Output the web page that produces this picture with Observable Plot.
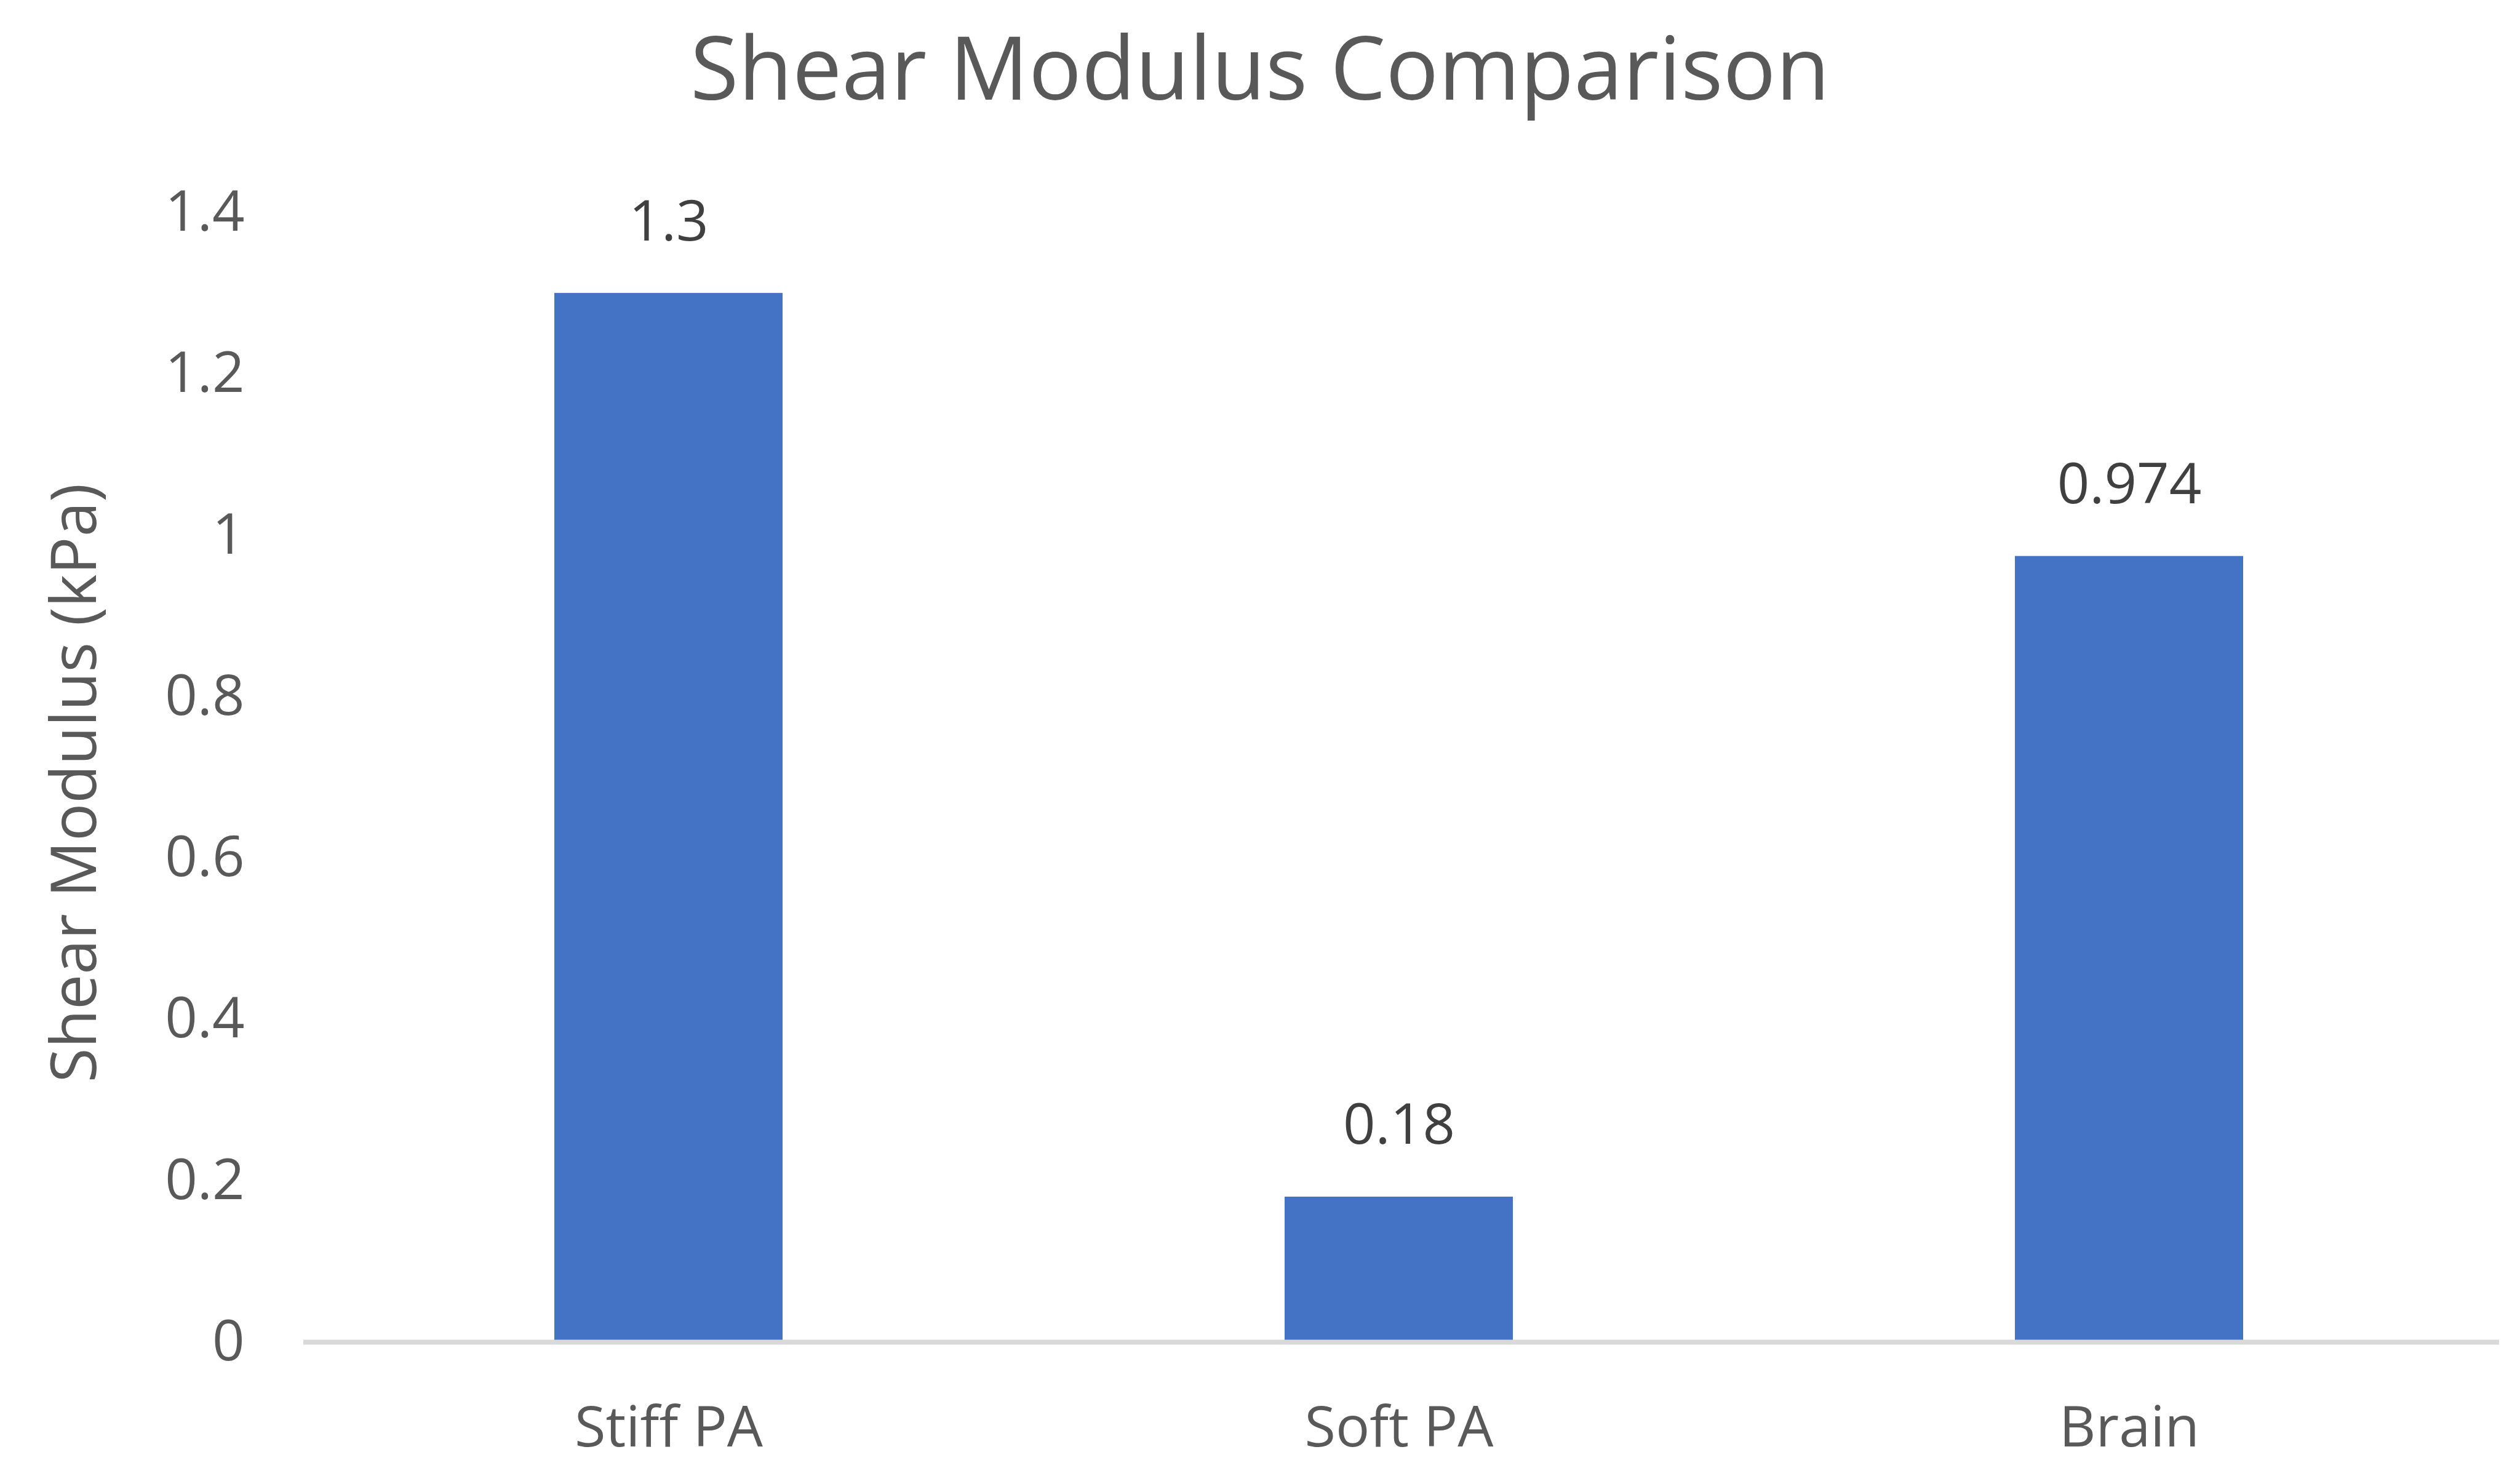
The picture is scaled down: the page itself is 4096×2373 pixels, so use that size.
<!DOCTYPE html>
<html><head><meta charset="utf-8">
<script src="https://cdn.jsdelivr.net/npm/d3@7"></script>
<script src="https://cdn.jsdelivr.net/npm/@observablehq/plot@0.6"></script>
<style>
html,body{margin:0;padding:0;background:#fff;}
#wrap{position:relative;width:4096px;height:2373px;}
#title{position:absolute;left:0;top:35px;width:4096px;text-align:center;font-family:'Open Sans';font-size:143px;color:#595959;line-height:1;z-index:2;}
</style></head>
<body><div id="wrap"><div id="title"></div></div>
<script>
const title = "Shear Modulus Comparison";
const yTitle = "Shear Modulus (kPa)";
const categories = ["Stiff PA", "Soft PA", "Brain"];
const values = [1.3, 0.18, 0.974];
const valueLabels = ["1.3", "0.18", "0.974"];
const yTicks = [0, 0.2, 0.4, 0.6, 0.8, 1, 1.2, 1.4];
const yTickLabels = ["0", "0.2", "0.4", "0.6", "0.8", "1", "1.2", "1.4"];

document.getElementById("title").textContent = title;
const data = categories.map((c, i) => ({category: c, value: values[i], label: valueLabels[i]}));

const chart = Plot.plot({
  width: 4096, height: 2373,
  marginTop: 345, marginBottom: 192, marginLeft: 493, marginRight: 42,
  style: {fontFamily: "'Open Sans'", fontSize: "92px", color: "#595959", background: "white"},
  x: {domain: categories, paddingInner: 0.6875, paddingOuter: 0.34375, label: null},
  y: {domain: [0, 1.4], label: null},
  marks: [
    Plot.barY(data, {x: "category", y: "value", fill: "#4472C4"}),
    Plot.ruleY([0], {stroke: "#D9D9D9", strokeWidth: 8, insetRight: -8}),
    Plot.axisY(yTicks, {tickSize: 0, tickPadding: 96, tickFormat: d => yTickLabels[yTicks.indexOf(d)], fontSize: 92, label: null}),
    Plot.axisX({tickSize: 0, tickPadding: 104, fontSize: 92, label: null}),
    Plot.text(data, {x: "category", y: "value", text: "label", lineAnchor: "bottom", dy: -86, fontSize: 92, fill: "#404040"}),
    Plot.text([yTitle], {frameAnchor: "left", textAnchor: "middle", lineAnchor: "middle", rotate: -90, dx: -370, dy: 9, fontSize: 102, fill: "#595959"})
  ]
});
chart.style.position = "absolute";
chart.style.left = "0";
chart.style.top = "0";
document.getElementById("wrap").appendChild(chart);
</script>
</body></html>
